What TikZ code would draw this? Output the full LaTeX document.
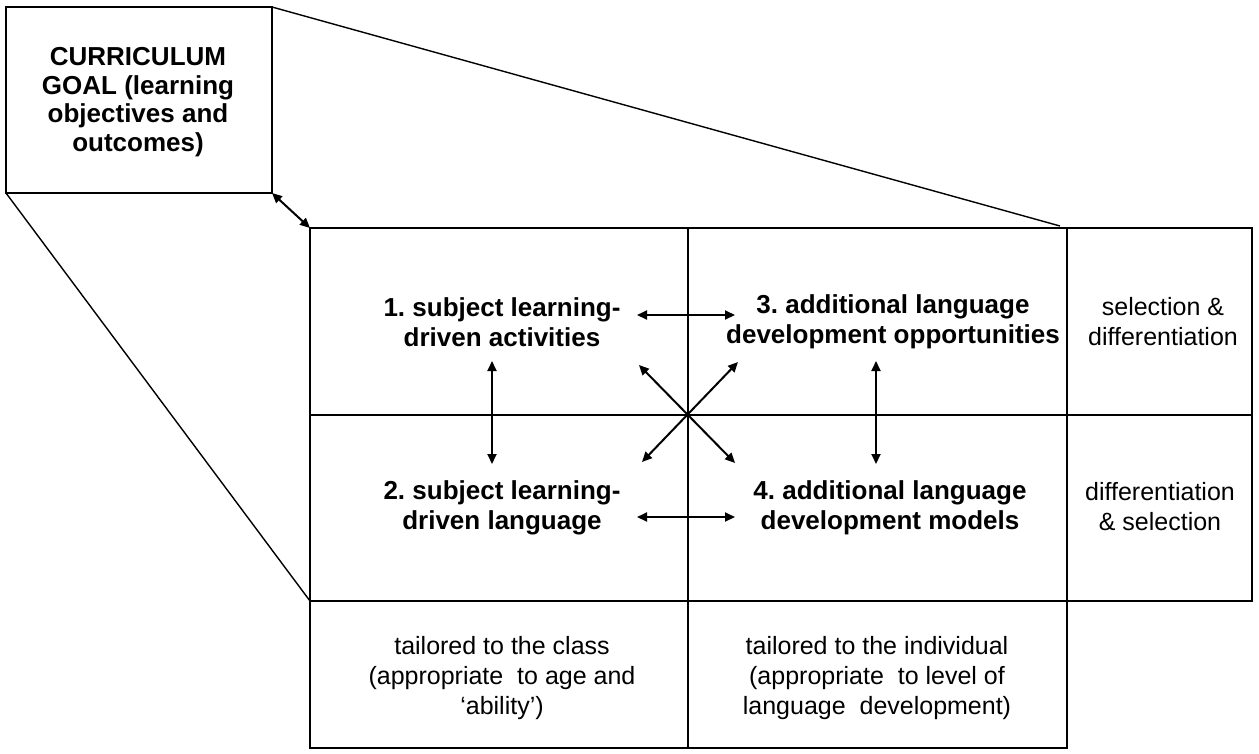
\documentclass[tikz,border=0pt]{standalone}
\usepackage{fontspec}
\setmainfont{Liberation Sans}
\usetikzlibrary{arrows.meta}
\frenchspacing
\begin{document}
\begin{tikzpicture}[x=1pt,y=-1pt,
  cellbox/.style={draw,line width=2pt,inner sep=0pt,outer sep=0pt},
  boldtxt/.style={align=center,inner sep=0pt,font=\fontsize{26}{30}\selectfont\bfseries},
  plaintxt/.style={align=center,inner sep=0pt,font=\fontsize{25}{30}\selectfont},
  dblarrow/.style={line width=2pt,{Triangle[length=10pt,width=9pt]}-{Triangle[length=10pt,width=9pt]}},
  thinline/.style={line width=1.4pt}]
\useasboundingbox (0,0) rectangle (1259,753);
% curriculum box
\node[cellbox,minimum width=266pt,minimum height=186pt] (cur) at (139,100) {};
\node[align=center,inner sep=0pt,font=\fontsize{26}{28.5}\selectfont\bfseries] (curtxt) at (138,102)
  {CURRICULUM\\GOAL (learning\\objectives and\\outcomes)};
% grid cells
\node[cellbox,minimum width=378pt,minimum height=187pt] (c1) at (499,321.5) {};
\node[cellbox,minimum width=379pt,minimum height=187pt] (c3) at (877.5,321.5) {};
\node[cellbox,minimum width=185pt,minimum height=187pt] (s1) at (1159.5,321.5) {};
\node[cellbox,minimum width=378pt,minimum height=186pt] (c2) at (499,508) {};
\node[cellbox,minimum width=379pt,minimum height=186pt] (c4) at (877.5,508) {};
\node[cellbox,minimum width=185pt,minimum height=186pt] (s2) at (1159.5,508) {};
\node[cellbox,minimum width=378pt,minimum height=147pt] (t1) at (499,674.5) {};
\node[cellbox,minimum width=379pt,minimum height=147pt] (t2) at (877.5,674.5) {};
% texts
\node[boldtxt] (n1) at (502,322) {1. subject learning-\\driven activities};
\node[boldtxt] (n3) at (893,322) {3. additional language\\development opportunities};
\node[boldtxt] (n2) at (502,508) {2. subject learning-\\driven language};
\node[boldtxt] (n4) at (890,508) {4. additional language\\development models};
\node[plaintxt] (sel1) at (1163,322) {selection \&\\differentiation};
\node[plaintxt] (sel2) at (1160,507) {differentiation\\\& selection};
\node[plaintxt] (tc) at (502,678) {tailored to the class\\(appropriate\ \ to age and\\`ability')};
\node[plaintxt] (ti) at (877,678) {tailored to the individual\\(appropriate\ \ to level of\\language\ \ development)};
% connectors to curriculum
\coordinate (gtop) at (1060,226);
\draw[thinline] (cur.north east) -- (gtop);
\draw[thinline] (cur.south west) -- (t1.north west);
\draw[dblarrow] (cur.south east) -- (c1.north west);
% arrows between quadrants
\coordinate (ha1) at (637,315);
\coordinate (hb1) at (735,315);
\coordinate (ha2) at (637,517);
\coordinate (hb2) at (735,517);
\coordinate (va1) at (492,361);
\coordinate (vb1) at (492,464);
\coordinate (va2) at (876,361);
\coordinate (vb2) at (876,464);
\coordinate (nw) at (639,365);
\coordinate (se) at (735,463);
\coordinate (ne) at (738,362);
\coordinate (sw) at (642,462);
\draw[dblarrow] (ha1) -- (hb1);
\draw[dblarrow] (ha2) -- (hb2);
\draw[dblarrow] (va1) -- (vb1);
\draw[dblarrow] (va2) -- (vb2);
\draw[dblarrow] (nw) -- (se);
\draw[dblarrow] (ne) -- (sw);
\end{tikzpicture}
\end{document}
